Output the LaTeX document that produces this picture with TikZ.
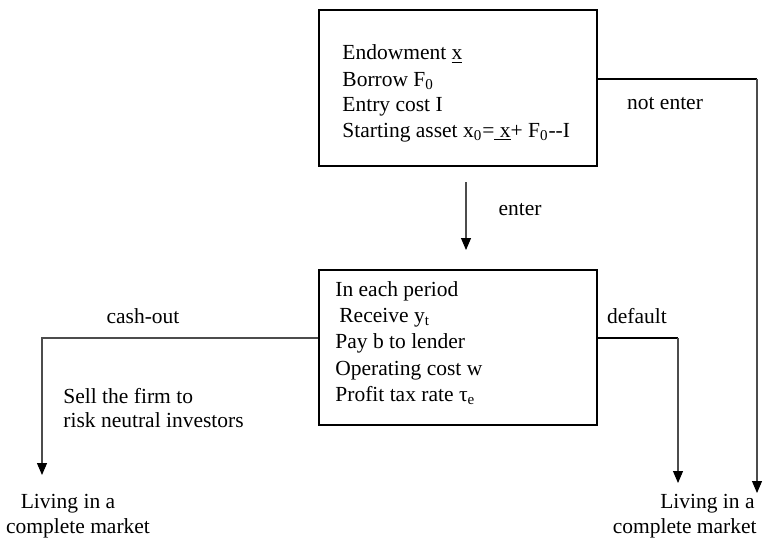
\documentclass[tikz,border=0pt]{standalone}
\usepackage{fontspec}
\setmainfont{Liberation Serif}
\usetikzlibrary{arrows.meta}

\tikzset{
  box/.style={draw=black, line width=1pt, inner sep=0pt, anchor=north west},
  txt/.style={inner sep=0pt, anchor=base west, font=\fontsize{10.75}{13}\selectfont},
  lbl/.style={inner sep=0pt, anchor=base, font=\fontsize{10.75}{13}\selectfont},
  link/.style={draw=black!70, line width=0.55pt},
  flow/.style={link, -{Triangle[width=5pt,length=6pt,color=black]}}
}

\begin{document}
\begin{tikzpicture}[x=0.5pt, y=-0.5pt]
\useasboundingbox (0,0) rectangle (763,540);

% entry decision box
\node[box, minimum width=139pt, minimum height=78pt] (start) at (318,9) {};
\node[txt] (s1) at (342,60)  {Endowment \underline{x}};
\node[txt] (s2) at (342,86)  {Borrow F\textsubscript{0}};
\node[txt] (s3) at (342,111) {Entry cost I};
\node[txt] (s4) at (342,137) {Starting asset x\textsubscript{0}=\underline{\ x}+ F\textsubscript{0}-{}-I};

% per-period operation box
\node[box, minimum width=139pt, minimum height=77.5pt] (oper) at (318,269) {};
\node[txt] (o1) at (335,296) {In each period};
\node[txt] (o2) at (339,322) {Receive y\textsubscript{t}};
\node[txt] (o3) at (335,348) {Pay b to lender};
\node[txt] (o4) at (335,375) {Operating cost w};
\node[txt] (o5) at (335,401) {Profit tax rate τ\textsubscript{e}};

% outcomes
\node[lbl] (liveL1) at (68,508) {Living in a};
\node[lbl] (liveL2) at (78,533) {complete market};
\node[txt, anchor=base east] (liveR1) at (755,508) {Living in a};
\node[txt, anchor=base east] (liveR2) at (757,533) {complete market};

% branch labels
\node[lbl] (lnot)   at (665,109) {not enter};
\node[lbl] (lenter) at (520,215) {enter};
\node[lbl] (lcash)  at (143,323) {cash-out};
\node[lbl] (ldef)   at (637,323) {default};
\node[txt] (sell1) at (63,403) {Sell the firm to};
\node[txt] (sell2) at (63,427) {risk neutral investors};

% connector end points
\coordinate (notA) at (start.east |- 0,79);
\coordinate (notB) at (757,79);
\coordinate (notC) at (757,493);
\coordinate (entA) at (466,182);
\coordinate (entB) at (466,250);
\coordinate (cashA) at (oper.west |- 0,338);
\coordinate (cashB) at (42,338);
\coordinate (cashC) at (42,475);
\coordinate (defA) at (oper.east |- 0,338);
\coordinate (defB) at (678,338);
\coordinate (defC) at (678,483);

% connectors
\draw[link, draw=black] (notA) -- (notB);
\draw[flow] (notB) -- (notC);
\draw[flow] (entA) -- (entB);
\draw[flow] (cashA) -- (cashB) -- (cashC);
\draw[link, draw=black] (defA) -- (defB);
\draw[flow] (defB) -- (defC);
\end{tikzpicture}
\end{document}
